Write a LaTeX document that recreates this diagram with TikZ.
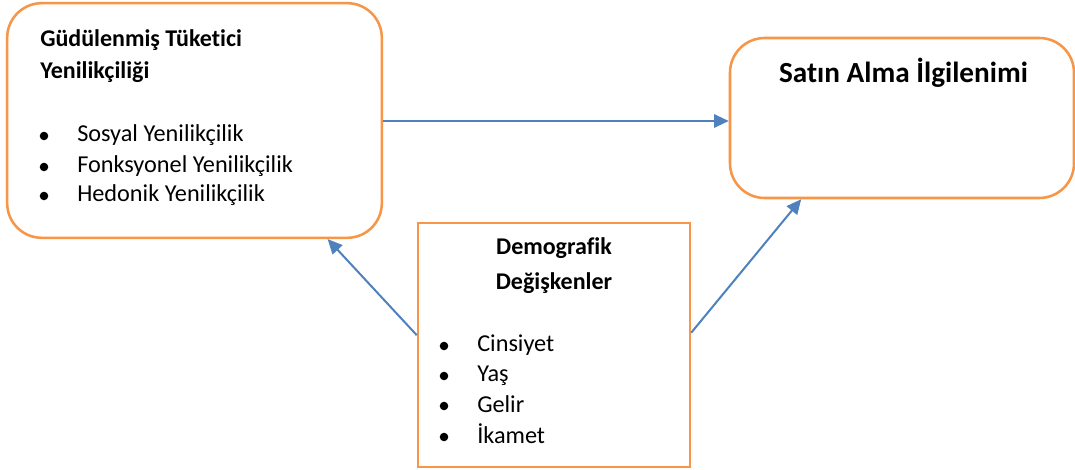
\documentclass[tikz,border=0pt]{standalone}
\usepackage{fontspec}
\setmainfont{Carlito}[Ligatures=NoCommon]
\usetikzlibrary{arrows.meta,calc}
\definecolor{boxline}{RGB}{247,150,70}
\definecolor{arrowline}{RGB}{79,129,189}
\tikzset{
  box/.style={draw=boxline,line width=1.9pt,inner sep=0pt,fill=white},
  link/.style={draw=arrowline,line width=1.5pt,-{Triangle[length=11pt,width=10pt]}},
  txt/.style={anchor=base west,inner sep=0pt,font=\fontsize{18.2}{21}\selectfont},
  head/.style={txt,font=\fontsize{18}{21}\selectfont\bfseries},
  dot/.style={fill=black},
}

\begin{document}
\begin{tikzpicture}[x=0.75pt,y=-0.75pt]
  \path[use as bounding box,fill=white] (0,0) rectangle (1075,470);

  % boxes
  \node[box,rounded corners=26pt,minimum width=281pt,minimum height=176pt]
    (gtk) at (194.5,120.5) {};
  \node[box,rounded corners=26pt,minimum width=258pt,minimum height=120pt]
    (sai) at (902,118) {};
  \node[box,minimum width=204pt,minimum height=183pt]
    (dem) at (554,345) {};

  % motivated consumer innovativeness
  \node[head] (gtk-t1) at (40,47) {Güdülenmiş Tüketici};
  \node[head] (gtk-t2) at (40,79) {Yenilikçiliği};
  \foreach \y/\name/\label in {142/s/Sosyal Yenilikçilik,
                               173/f/Fonksyonel Yenilikçilik,
                               202/h/Hedonik Yenilikçilik} {
    \fill[dot] (44,\y-6) circle (3.2pt);
    \node[txt] (gtk-\name) at (77,\y) {\label};
  }

  % purchase intention
  \node[anchor=base,inner sep=0pt,font=\fontsize{21.9}{26}\selectfont\bfseries]
    (sai-t) at (903.5,83) {Satın Alma İlgilenimi};

  % demographics
  \node[head,anchor=base] (dem-t1) at (554,255) {Demografik};
  \node[head,anchor=base] (dem-t2) at (554,290) {Değişkenler};
  \foreach \y/\name/\label in {352/c/Cinsiyet,382/y/Yaş,412/g/Gelir,443/i/İkamet} {
    \fill[dot] (444,\y-6) circle (3.2pt);
    \node[txt] (dem-\name) at (477,\y) {\label};
  }

  % connectors
  \draw[link] (gtk.east |- 0,121) -- (sai.west |- 0,121);
  \draw[link] ($(dem.north west)!0.46!(dem.south west)$)
    -- ($(gtk.south west)!0.853!(gtk.south east)$);
  \draw[link] ($(dem.north east)!0.45!(dem.south east)$)
    -- ($(sai.south west)!0.209!(sai.south east)$);
\end{tikzpicture}
\end{document}
